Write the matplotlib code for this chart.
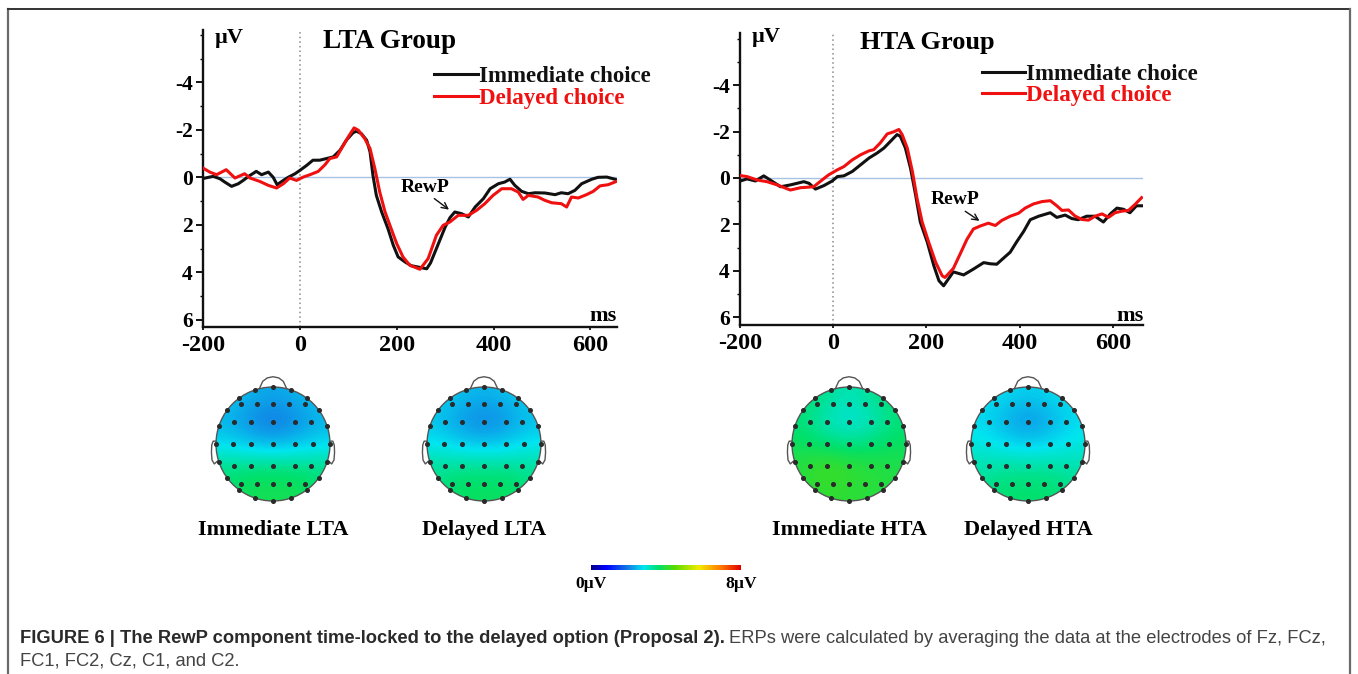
import numpy as np
import matplotlib
matplotlib.use('Agg')
import matplotlib.pyplot as plt
from matplotlib.colors import LinearSegmentedColormap, Normalize
from matplotlib.patches import Circle
from matplotlib.lines import Line2D
import matplotlib.cm as cm

# ---------------- data ----------------
lta_imm_t = [-200,-179,-165,-155,-141,-127,-117,-103,-90,-79,-65,-55,-47,-34,-24,-10,0,14,27,41,55,69,83,96,110,117,127,138,145,151,158,169,182,193,203,217,230,245,262,270,280,290,300,310,320,334,348,362,379,393,410,423,434,444,458,472,486,506,527,540,554,568,582,603,616,634,654]
lta_imm_v = [0.05,-0.04,0.06,0.2,0.38,0.27,0.13,-0.08,-0.25,-0.11,-0.22,0,0.31,0.13,0,-0.15,-0.29,-0.5,-0.72,-0.72,-0.79,-0.86,-1.14,-1.56,-1.88,-1.94,-1.84,-1.56,-1.07,-0.08,0.76,1.46,2.16,2.86,3.35,3.56,3.72,3.78,3.85,3.6,3.1,2.6,2.1,1.7,1.46,1.53,1.67,1.25,0.9,0.48,0.27,0.2,0.08,0.34,0.59,0.69,0.65,0.66,0.73,0.65,0.69,0.55,0.27,0.08,0,-0.01,0.1]

lta_del_t = [-200,-186,-172,-152,-134,-114,-103,-83,-65,-48,-34,-21,-7,7,21,38,52,62,76,86,100,112,121,134,145,155,165,176,186,200,213,227,248,265,282,296,310,327,348,365,382,399,417,437,451,461,472,492,506,520,540,551,561,575,592,606,620,637,654]
lta_del_v = [-0.39,-0.22,-0.11,-0.32,0.03,-0.15,0.03,0.17,0.34,0.45,0.27,0.03,0.13,-0.01,-0.11,-0.25,-0.53,-0.79,-0.86,-1.21,-1.7,-2.08,-1.98,-1.63,-1.21,-0.36,0.62,1.46,2.02,2.79,3.35,3.7,3.87,3.42,2.44,2.02,1.88,1.6,1.6,1.39,1.11,0.76,0.48,0.48,0.62,0.93,0.76,0.83,0.97,1.07,1.11,1.25,0.83,0.87,0.73,0.59,0.36,0.31,0.17]

hta_imm_t = [-199,-185,-167,-149,-135,-113,-92,-63,-52,-38,-20,-2,9,23,41,59,77,94,109,123,137,144,155,166,177,187,202,216,227,237,258,280,301,323,337,351,366,380,394,409,423,441,466,480,498,512,526,544,562,580,595,609,623,637,651,662]
hta_imm_v = [0.13,0.04,0.13,-0.09,0.09,0.38,0.3,0.16,0.23,0.48,0.33,0.13,-0.06,-0.09,-0.28,-0.57,-0.86,-1.07,-1.29,-1.58,-1.87,-1.8,-1.29,-0.42,0.74,1.9,2.77,3.78,4.43,4.65,4.05,4.18,3.93,3.65,3.7,3.72,3.45,3.2,2.75,2.3,1.8,1.65,1.5,1.7,1.6,1.75,1.8,1.65,1.65,1.9,1.55,1.3,1.35,1.5,1.2,1.2]

hta_del_t = [-199,-185,-163,-142,-120,-92,-70,-42,-24,-10,9,23,41,59,77,87,101,116,130,141,148,159,170,180,191,205,220,234,240,258,272,287,301,316,333,348,362,380,398,412,430,448,466,480,491,505,519,534,548,562,577,591,605,620,634,648,662]
hta_del_v = [-0.1,-0.06,0.09,0.16,0.3,0.52,0.42,0.38,0.09,-0.13,-0.35,-0.49,-0.78,-1.0,-1.17,-1.22,-1.51,-1.9,-1.99,-2.09,-1.87,-1.29,-0.28,0.88,1.9,2.77,3.64,4.22,4.29,3.9,3.3,2.65,2.2,2.07,1.95,2.05,1.83,1.65,1.52,1.3,1.12,1.02,0.98,1.2,1.4,1.38,1.64,1.79,1.82,1.65,1.55,1.7,1.5,1.43,1.4,1.14,0.85]

x_ticks = [-200, 0, 200, 400, 600]
x_ticklabels = ['-200', '0', '200', '400', '600']
y_ticks = [-4, -2, 0, 2, 4, 6]
y_ticklabels = ['-4', '-2', '0', '2', '4', '6']
series_labels = ['Immediate choice', 'Delayed choice']

# topographic maps (µV, rows front -> back, cols left -> right)
topo_imm_lta = [[2.6, 2.4, 2.3, 2.4, 2.6],
                [2.4, 2.1, 1.9, 2.1, 2.4],
                [2.7, 2.5, 2.4, 2.5, 2.7],
                [3.4, 3.5, 3.5, 3.5, 3.4],
                [3.6, 3.8, 3.8, 3.8, 3.6]]
topo_del_lta = [[2.7, 2.5, 2.4, 2.5, 2.7],
                [2.5, 2.2, 2.0, 2.2, 2.5],
                [2.8, 2.6, 2.5, 2.6, 2.8],
                [3.3, 3.4, 3.4, 3.4, 3.3],
                [3.5, 3.7, 3.7, 3.7, 3.5]]
topo_imm_hta = [[3.6, 3.4, 3.1, 3.4, 3.6],
                [3.5, 3.1, 2.9, 3.1, 3.5],
                [3.7, 3.5, 3.4, 3.5, 3.7],
                [4.0, 4.3, 4.1, 4.0, 3.9],
                [3.9, 4.1, 4.0, 4.0, 3.9]]
topo_del_hta = [[2.8, 2.7, 2.6, 2.7, 2.8],
                [2.7, 2.4, 2.1, 2.4, 2.7],
                [2.9, 2.7, 2.6, 2.7, 2.9],
                [3.2, 3.3, 3.3, 3.3, 3.2],
                [3.4, 3.6, 3.6, 3.6, 3.4]]
topo_labels = ['Immediate LTA', 'Delayed LTA', 'Immediate HTA', 'Delayed HTA']
cbar_range = [0, 8]
cbar_labels = ['0µV', '8µV']

# ---------------- style ----------------
SERIF = ['Liberation Serif', 'DejaVu Serif']
SANS = ['Liberation Sans', 'DejaVu Sans']
plt.rcParams['font.family'] = SERIF
plt.rcParams['font.weight'] = 'bold'

W, H = 1358, 674
fig = plt.figure(figsize=(W / 100, H / 100), dpi=100)
fig.patch.set_facecolor('white')


def fx(px):
    return px / W


def fy(py):
    return 1 - py / H


def ax_px(x0, y0, x1, y1):
    return fig.add_axes([x0 / W, 1 - y1 / H, (x1 - x0) / W, (y1 - y0) / H])


RED = '#f01010'


def erp_panel(box, ylim, xmax, imm, dele, leg_anchor, leg_sp, rewp_text, rewp_head):
    ax = ax_px(*box)
    ax.set_xlim(-200, xmax)
    ax.set_ylim(*ylim)
    for s in ['top', 'right']:
        ax.spines[s].set_visible(False)
    for s in ['left', 'bottom']:
        ax.spines[s].set_linewidth(1.7)
        ax.spines[s].set_color('#111')
    ax.set_xticks(x_ticks)
    ax.set_xticklabels(x_ticklabels)
    ax.set_yticks(y_ticks)
    ax.set_yticklabels(y_ticklabels)
    ax.set_yticks(np.arange(-6, 7, 1), minor=True)
    ax.tick_params(axis='y', which='major', direction='out', length=5, width=1.3,
                   pad=2.5, labelsize=15.5)
    ax.tick_params(axis='y', which='minor', direction='out', length=2.5, width=1.0)
    ax.tick_params(axis='x', which='major', direction='out', length=2.5, width=1.2,
                   pad=3, labelsize=17.5)
    ax.axvline(0, color='#8a8a8a', ls=(0, (1, 2)), lw=1.1, zorder=1)
    ax.axhline(0, color='#a8c2e4', lw=1.0, zorder=1)
    l1, = ax.plot(imm[0], imm[1], color='#111111', lw=2.2, zorder=3,
                  label=series_labels[0])
    l2, = ax.plot(dele[0], dele[1], color=RED, lw=2.2, zorder=4,
                  label=series_labels[1])
    ax.legend(handles=[l1, l2], loc='upper left', bbox_to_anchor=leg_anchor,
              frameon=False, handlelength=1.9, handletextpad=0.05,
              labelspacing=leg_sp, borderpad=0, borderaxespad=0,
              prop=dict(family=SERIF, weight='bold', size=16.5),
              labelcolor='linecolor')
    ax.annotate('RewP', xy=rewp_head, xytext=rewp_text, ha='center', va='center',
                fontsize=14, fontweight='bold',
                arrowprops=dict(arrowstyle='->', lw=1.0, color='#111',
                                relpos=(0.62, 0.0), shrinkA=0, shrinkB=0,
                                mutation_scale=11))
    return ax


erp_panel((203, 30, 617, 327), (6.3, -6.2), 655,
          (lta_imm_t, lta_imm_v), (lta_del_t, lta_del_v),
          (0.558, 0.878), 0.05, (258, 0.42), (308, 1.36))
erp_panel((740, 33, 1143, 325), (6.34, -6.25), 665,
          (hta_imm_t, hta_imm_v), (hta_del_t, hta_del_v),
          (0.60, 0.895), 0.0, (262, 0.95), (314, 1.85))

# panel titles / unit labels
fig.text(fx(390), fy(42), 'LTA Group', fontsize=19.5, ha='center', va='center')
fig.text(fx(927), fy(43), 'HTA Group', fontsize=19, ha='center', va='center')
fig.text(fx(229), fy(38), 'µV', fontsize=16, ha='center', va='center')
fig.text(fx(766), fy(37), 'µV', fontsize=16, ha='center', va='center')
fig.text(fx(603), fy(316), 'ms', fontsize=16, ha='center', va='center')
fig.text(fx(1130), fy(316), 'ms', fontsize=16, ha='center', va='center')

# ---------------- topomaps ----------------
cmap = LinearSegmentedColormap.from_list('topo', [
    (0.00, (0.00, 0.00, 0.55)),
    (0.10, (0.00, 0.00, 1.00)),
    (0.25, (0.07, 0.50, 0.90)),
    (0.35, (0.00, 0.90, 0.94)),
    (0.45, (0.00, 0.88, 0.42)),
    (0.56, (0.35, 0.86, 0.00)),
    (0.72, (0.95, 0.92, 0.00)),
    (0.86, (1.00, 0.50, 0.00)),
    (1.00, (0.88, 0.00, 0.00))])
norm = Normalize(*cbar_range)

ang = np.deg2rad(np.arange(0, 360, 18))
elec_x = list(np.cos(ang))
elec_y = list(np.sin(ang))
for ry, xs in [(0.71, [-0.57, -0.28, 0, 0.28, 0.57]),
               (0.38, [-0.68, -0.39, 0, 0.38, 0.67]),
               (0.0, [-0.70, -0.39, 0, 0.39, 0.70]),
               (-0.38, [-0.68, -0.39, 0, 0.38, 0.67]),
               (-0.71, [-0.57, -0.28, 0, 0.28, 0.57])]:
    elec_x += xs
    elec_y += [ry] * len(xs)

nose_x = [-0.24, -0.18, -0.1, 0.0, 0.1, 0.18, 0.24]
nose_y = [0.97, 1.10, 1.16, 1.18, 1.16, 1.10, 0.97]
ear_x = [0.995, 1.05, 1.075, 1.08, 1.07, 1.03, 0.975]
ear_y = [0.05, 0.05, -0.02, -0.15, -0.28, -0.35, -0.30]


def topo(cx, cy, r, grid, label):
    s = 1.3
    ax = fig.add_axes([(cx - s * r) / W, 1 - (cy + s * r) / H, 2 * s * r / W, 2 * s * r / H])
    ax.set_xlim(-s, s)
    ax.set_ylim(-s, s)
    ax.axis('off')
    im = ax.imshow(grid, extent=(-1.02, 1.02, -1.02, 1.02), origin='upper', cmap=cmap,
                   norm=norm, interpolation='bicubic', aspect='auto', zorder=1)
    im.set_clip_path(Circle((0, 0), 1.0, transform=ax.transData))
    ax.add_patch(Circle((0, 0), 1.0, fill=False, ec='#555555', lw=1.0, zorder=3))
    ax.plot(nose_x, nose_y, color='#555555', lw=1.0, zorder=3)
    ax.plot(ear_x, ear_y, color='#555555', lw=1.0, zorder=3)
    ax.plot([-v for v in ear_x], ear_y, color='#555555', lw=1.0, zorder=3)
    ax.plot(elec_x, elec_y, 'o', ms=2.6, color='#2a2a2a', zorder=4)
    fig.text(fx(cx), fy(530), label, fontsize=16, ha='center', va='center')


topo(273, 444, 57, topo_imm_lta, topo_labels[0])
topo(484, 444, 57, topo_del_lta, topo_labels[1])
topo(849, 444, 57, topo_imm_hta, topo_labels[2])
topo(1028, 444, 57, topo_del_hta, topo_labels[3])

# colorbar
cax = ax_px(591, 565, 741, 570)
cb = fig.colorbar(cm.ScalarMappable(norm=norm, cmap=cmap), cax=cax,
                  orientation='horizontal', ticks=cbar_range)
cb.outline.set_visible(False)
cb.set_ticklabels(cbar_labels)
cax.tick_params(length=0, pad=4, labelsize=12.5)

# caption
CAP = 13.2
t1 = fig.text(fx(20), fy(643), 'FIGURE 6 | The RewP component time-locked to the delayed option (Proposal 2).',
              family=SANS, weight='bold', fontsize=CAP, color='#2a2a2a', ha='left', va='baseline')
fig.canvas.draw()
bb = t1.get_window_extent()
fig.text(bb.x1 / W + 4 / W, fy(643),
         'ERPs were calculated by averaging the data at the electrodes of Fz, FCz,',
         family=SANS, weight='normal', fontsize=CAP, color='#444444', ha='left', va='baseline')
fig.text(fx(20), fy(665), 'FC1, FC2, Cz, C1, and C2.',
         family=SANS, weight='normal', fontsize=CAP, color='#444444', ha='left', va='baseline')

# frame
fc = '#6a6a6a'
fig.add_artist(Line2D([fx(8), fx(8)], [fy(9), 0], color=fc, lw=1.6))
fig.add_artist(Line2D([fx(8), fx(1350)], [fy(9), fy(9)], color='#333333', lw=1.4))
fig.add_artist(Line2D([fx(1350), fx(1350)], [fy(9), 0], color=fc, lw=1.6))

fig.savefig('out.png', dpi=100)
